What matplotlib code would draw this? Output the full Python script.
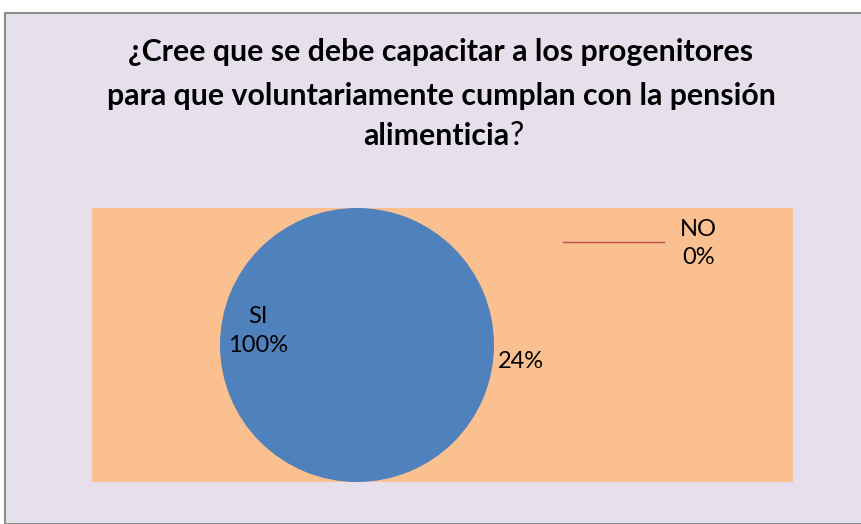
import matplotlib
matplotlib.use('Agg')
import matplotlib.pyplot as plt
from matplotlib.patches import Rectangle

# Data
labels = ['SI', 'NO']
values = [100, 0]
pct_text = ['100%', '0%']
stray_label = '24%'
colors = ['#4F81BD', '#C0504D']
title_lines = ['¿Cree que se debe capacitar a los progenitores',
               'para que voluntariamente cumplan con la pensión']
title_last = 'alimenticia'

plt.rcParams['font.family'] = ['Lato', 'DejaVu Sans']

fig = plt.figure(figsize=(8.62, 5.24), dpi=100)
fig.patch.set_facecolor('white')

# Chart area background with border
fig.patches.append(Rectangle((5 / 862, 0), 1, 1 - 13 / 524, transform=fig.transFigure,
                             facecolor='#E6E0EC', edgecolor='#8C8C8C', linewidth=1.5, zorder=-1))

# Title
tx = 441 / 862
fig.text(tx, 1 - 52 / 524, title_lines[0], ha='center', va='center', fontsize=21.8, fontweight='bold')
fig.text(tx, 1 - 96 / 524, title_lines[1], ha='center', va='center', fontsize=21.8, fontweight='bold')
fig.text(509 / 862, 1 - 136 / 524, title_last, ha='right', va='center', fontsize=21.8, fontweight='bold')
fig.text(510 / 862, 1 - 136 / 524, '?', ha='left', va='center', fontsize=23)

# Plot area
ax = fig.add_axes([92 / 862, 42 / 524, 701 / 862, 274 / 524])
ax.pie(values, colors=colors, startangle=90, counterclock=False, radius=1,
       wedgeprops=dict(linewidth=0))
ax.set_frame_on(True)
ax.set_facecolor('#FAC090')
ax.set_aspect('auto')
ax.set_xlim(-265 / 137, 436 / 137)
ax.set_ylim(-1, 1)
for s in ax.spines.values():
    s.set_visible(False)
ax.set_xticks([])
ax.set_yticks([])

ax.text(-0.72, 0.10, labels[0] + '\n' + pct_text[0], ha='center', va='center', fontsize=17, linespacing=1.45)
ax.text(1.20, -0.12, stray_label, ha='center', va='center', fontsize=17)
ax.text(2.49, 0.74, labels[1] + '\n' + pct_text[1], ha='center', va='center', fontsize=17, linespacing=1.45)
ax.plot([1.50, 2.24], [0.75, 0.75], color=colors[1], linewidth=1)

fig.savefig('out.png', dpi=100, facecolor=fig.get_facecolor())
